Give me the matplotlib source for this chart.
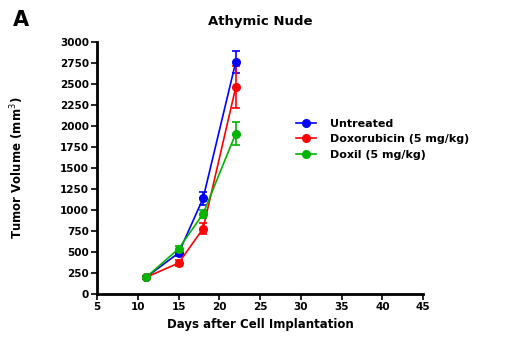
import matplotlib
matplotlib.use("Agg")
from matplotlib import pyplot as plt

plt.rcParams['font.family'] = ['DejaVu Sans']

# days after implantation
days = [11, 15, 18, 22]

# mean tumor volumes (mm^3)
untreated = [200, 490, 1140, 2760]
untreated_err = [20, 40, 80, 130]
doxorubicin = [200, 370, 780, 2460]
doxorubicin_err = [20, 30, 60, 250]
doxil = [200, 540, 955, 1910]
doxil_err = [20, 30, 50, 140]

names = ['Untreated', 'Doxorubicin (5 mg/kg)', 'Doxil (5 mg/kg)']
colors = ['#0000ff', '#ff0000', '#00b400']

fig = plt.figure(figsize=(5.31, 3.46), dpi=100)
ax = fig.add_axes([0.183, 0.150, 0.614, 0.729])

series = [(untreated, untreated_err), (doxorubicin, doxorubicin_err), (doxil, doxil_err)]
handles = []
for (vals, err), name, c in zip(series, names, colors):
    eb = ax.errorbar(days, vals, yerr=err, color=c, marker='o', markersize=5.5,
                     linewidth=1.2, elinewidth=1.2, capsize=3, capthick=1.2)
    eb[0].set_label(name)
    handles.append(eb[0])

ax.set_xlim(5, 45)
ax.set_ylim(0, 3000)
ax.set_xticks(range(5, 46, 5))
ax.set_yticks(range(0, 3001, 250))
ax.spines['top'].set_visible(False)
ax.spines['right'].set_visible(False)
ax.spines['left'].set_linewidth(2)
ax.spines['bottom'].set_linewidth(2)
ax.tick_params(labelsize=7.5, width=1.2, length=4, pad=2)
for lab in ax.get_xticklabels() + ax.get_yticklabels():
    lab.set_fontweight('bold')

ax.set_xlabel('Days after Cell Implantation', fontsize=8.5, fontweight='bold', labelpad=4)
ax.set_ylabel('Tumor Volume (mm$^3$)', fontsize=8.5, fontweight='bold', labelpad=24)
ax.set_title('Athymic Nude', fontsize=9.5, fontweight='bold', pad=12)
fig.text(0.025, 0.925, 'A', fontsize=15, fontweight='bold')

leg = ax.legend(handles=handles, loc='upper left', bbox_to_anchor=(0.58, 0.735), frameon=False,
                fontsize=8, handlelength=1.8, labelspacing=0.5, handletextpad=1.2)
for t in leg.get_texts():
    t.set_fontweight('bold')

fig.savefig('out.png', dpi=100)
